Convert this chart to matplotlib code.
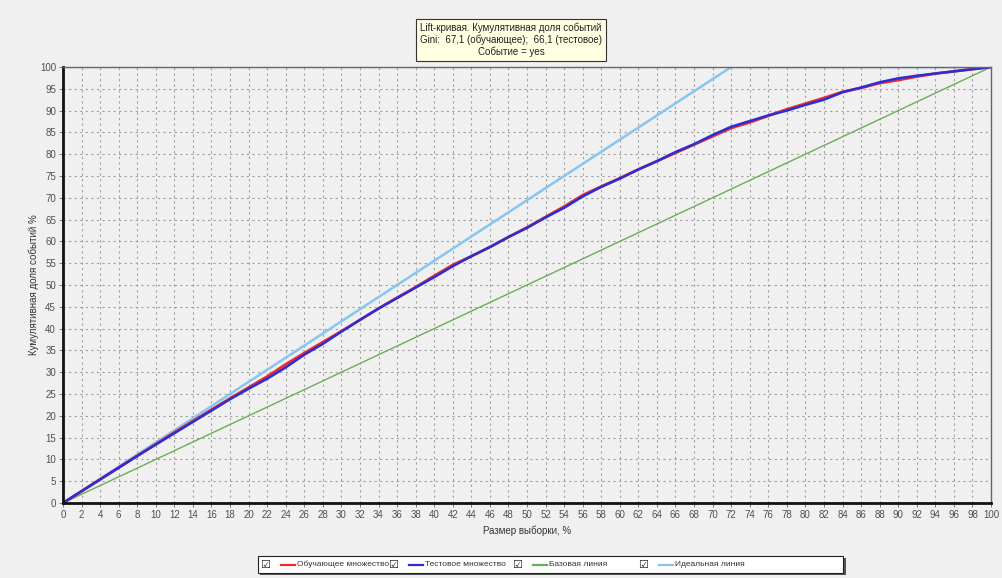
import numpy as np
import matplotlib
matplotlib.use("Agg")
import matplotlib.pyplot as plt
from matplotlib.lines import Line2D
from matplotlib.patches import Rectangle

plt.rcParams['font.family'] = ['Liberation Sans', 'DejaVu Sans']

# Данные
razmer = [0, 2, 4, 6, 8, 10, 12, 14, 16, 18, 20, 22, 24, 26, 28, 30, 32, 34, 36, 38,
          40, 42, 44, 46, 48, 50, 52, 54, 56, 58, 60, 62, 64, 66, 68, 70, 72, 74, 76, 78,
          80, 82, 84, 86, 88, 90, 92, 94, 96, 98, 100]
obuch = [0, 2.7, 5.4, 8.1, 10.8, 13.5, 16.2, 18.8, 21.4, 24.0, 26.5, 29.0, 31.8, 34.4, 36.9, 39.4,
         42.0, 44.6, 47.1, 49.5, 52.1, 54.6, 56.6, 58.7, 61.0, 63.2, 65.6, 68.0, 70.6, 72.6,
         74.5, 76.5, 78.4, 80.3, 82.2, 84.1, 86.0, 87.3, 88.8, 90.3, 91.6, 92.9, 94.3, 95.2,
         96.3, 97.0, 97.8, 98.5, 99.0, 99.5, 100]
test = [0, 2.7, 5.4, 8.1, 10.8, 13.4, 16.0, 18.6, 21.2, 23.8, 26.2, 28.5, 31.1, 34.0, 36.5, 39.3,
        42.0, 44.6, 47.0, 49.4, 51.8, 54.3, 56.6, 58.7, 61.0, 63.1, 65.5, 67.7, 70.3, 72.5,
        74.4, 76.5, 78.4, 80.5, 82.3, 84.4, 86.3, 87.6, 88.9, 90.0, 91.3, 92.5, 94.2, 95.3,
        96.5, 97.4, 98.0, 98.5, 99.0, 99.5, 100]
bazovaya = [0, 100]
idealnaya_x = [0, 72, 100]
idealnaya_y = [0, 100, 100]

bg = "#f0f0f0"
c_obuch = "#ee2b2b"
c_test = "#2d2dd6"
c_baz = "#6aae5a"
c_ideal = "#86c6f0"

fig = plt.figure(figsize=(10.03, 5.78), dpi=100, facecolor=bg)
ax = fig.add_axes([63 / 1003, 1 - 503 / 578, 928 / 1003, 436 / 578])
ax.set_facecolor(bg)

ax.plot(bazovaya, bazovaya, color=c_baz, lw=1.0)
ax.plot(idealnaya_x, idealnaya_y, color=c_ideal, lw=1.8)
ax.plot(razmer, obuch, color=c_obuch, lw=2.0)
ax.plot(razmer, test, color=c_test, lw=1.8)

ax.set_xlim(0, 100)
ax.set_ylim(0, 100)
ax.set_xticks(np.arange(0, 101, 2))
ax.set_yticks(np.arange(0, 101, 5))
ax.grid(True, color="#a0a0a0", linestyle=(0, (2, 3)), lw=0.8)
ax.tick_params(labelsize=7, labelcolor="#505050", length=3, width=0.6, color="#666666", pad=2)

for s in ("left", "bottom"):
    ax.spines[s].set_linewidth(2)
    ax.spines[s].set_color("#111111")
for s in ("top", "right"):
    ax.spines[s].set_linewidth(1)
    ax.spines[s].set_color("#666666")

ax.set_xlabel("Размер выборки, %", fontsize=7, color="#333333", labelpad=4)
ax.set_ylabel("Кумулятивная доля событий %", fontsize=7, color="#333333", labelpad=1)

# Заголовок в жёлтой рамке
fig.text(511 / 1003, 1 - 40 / 578,
         "Lift-кривая. Кумулятивная доля событий\nGini:  67,1 (обучающее);  66,1 (тестовое)\nСобытие = yes",
         ha="center", va="center", fontsize=7, color="#222222", linespacing=1.15,
         bbox=dict(boxstyle="square,pad=0.4", facecolor="#ffffe1", edgecolor="#333333", lw=0.8))

# Легенда внизу
fig.patches.append(Rectangle((260 / 1003, 1 - 575 / 578), 586 / 1003, 17 / 578,
                             transform=fig.transFigure, facecolor="#555555", edgecolor="none", zorder=1))
fig.patches.append(Rectangle((258 / 1003, 1 - 573 / 578), 585 / 1003, 17 / 578,
                             transform=fig.transFigure, facecolor="white", edgecolor="#222222", lw=0.8, zorder=2))
entries = [("Обучающее множество", c_obuch, 265), ("Тестовое множество", c_test, 393),
           ("Базовая линия", c_baz, 517), ("Идеальная линия", c_ideal, 643)]
ly = 1 - 564.5 / 578
for label, col, px in entries:
    fig.text(px / 1003, ly, "☑", fontsize=8, ha="center", va="center", color="#222222",
             family="DejaVu Sans", zorder=3)
    fig.lines.append(Line2D([(px + 16) / 1003, (px + 30) / 1003], [ly, ly], color=col, lw=1.6,
                            transform=fig.transFigure, zorder=3))
    fig.text((px + 32) / 1003, ly, label, fontsize=6, ha="left", va="center", color="#333333", zorder=3)

fig.savefig("out.png", dpi=100, facecolor=bg)
